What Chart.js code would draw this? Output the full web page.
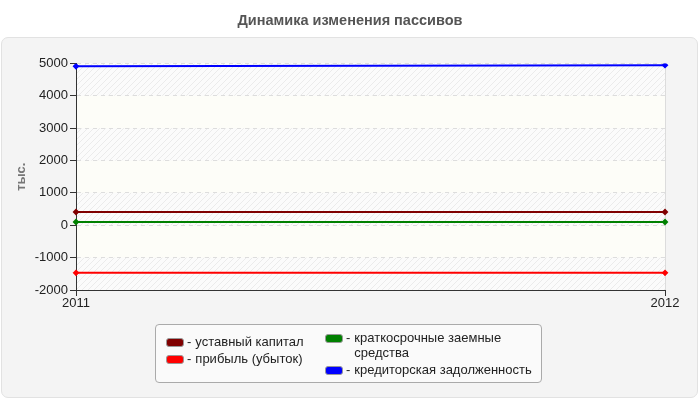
<!DOCTYPE html>
<html lang="ru">
<head>
  <meta charset="UTF-8">
  <title>Динамика изменения пассивов</title>
  <script src="https://cdn.jsdelivr.net/npm/chart.js"></script>
  <style>
    body { margin: 0; background: #fff; font-family: "Liberation Sans", Arial, sans-serif; }
    #wrap { position: relative; width: 700px; height: 400px; }
    /* grey panel behind the plot */
    #panel {
      position: absolute; left: 1px; top: 37px; width: 695px; height: 359px;
      background: #f4f4f4; border: 1px solid #e2e2e2; border-radius: 7px;
    }
    #chart { position: absolute; left: 0; top: 0; }
    #legend {
      position: absolute; left: 155px; top: 324px; width: 385px; height: 57px;
      background: #fafafa; border: 1px solid #aaa; border-radius: 4px;
      font-size: 13px; color: #222;
    }
    .col { position: absolute; }
    .item { display: flex; align-items: flex-start; line-height: 15px; margin-bottom: 2px; }
    .sw { width: 16px; height: 7px; border: 1px solid #999; border-radius: 3px; margin: 4px 3px 0 0; flex: none; }
    .dash { margin-right: 4px; }
  </style>
</head>
<body>
<div id="wrap">
  <div id="panel"></div>
  <canvas id="chart" width="700" height="400"></canvas>
  <div id="legend"></div>
</div>
<script>
  // years on the x axis
  const years = ['2011', '2012'];

  // series (тыс.)
  const ustavnyKapital = [410, 410];
  const pribyl = [-1470, -1470];
  const kratkosrochnye = [100, 100];
  const kreditorskaya = [4910, 4945];

  const seriesNames = ['уставный капитал', 'прибыль (убыток)', 'краткосрочные заемные средства', 'кредиторская задолженность'];
  const seriesColors = ['#800000', '#ff0000', '#008000', '#0000ff'];
  const seriesValues = [ustavnyKapital, pribyl, kratkosrochnye, kreditorskaya];

  // hatched / plain bands behind the plot
  function makeHatch() {
    const c = document.createElement('canvas');
    c.width = 6; c.height = 6;
    const g = c.getContext('2d');
    g.fillStyle = '#fbfbfb';
    g.fillRect(0, 0, 6, 6);
    g.strokeStyle = '#ebebeb';
    g.lineWidth = 1;
    g.beginPath();
    g.moveTo(0, 6); g.lineTo(6, 0);
    g.moveTo(-1, 1); g.lineTo(1, -1);
    g.moveTo(5, 7); g.lineTo(7, 5);
    g.stroke();
    return g.createPattern(c, 'repeat');
  }

  const bandsPlugin = {
    id: 'bands',
    beforeDraw(chart) {
      const { ctx, chartArea: a, scales: { y } } = chart;
      const hatch = makeHatch();
      ctx.save();
      ctx.fillStyle = '#fdfdf8';
      ctx.fillRect(a.left, a.top, a.right - a.left, a.bottom - a.top);
      let i = 0;
      for (let v = 5000; v > -2000; v -= 1000, i++) {
        if (i % 2 === 0) {
          const top = y.getPixelForValue(v), bot = y.getPixelForValue(v - 1000);
          ctx.fillStyle = hatch;
          ctx.fillRect(a.left, top, a.right - a.left, bot - top);
        }
      }
      ctx.restore();
    }
  };

  const datasets = seriesValues.map((vals, i) => ({
    label: seriesNames[i],
    data: vals,
    borderColor: seriesColors[i],
    backgroundColor: seriesColors[i],
    borderWidth: 2,
    pointStyle: 'rectRot',
    pointRadius: 2,
    tension: 0
  }));

  new Chart(document.getElementById('chart'), {
    type: 'line',
    data: { labels: years, datasets: datasets },
    plugins: [bandsPlugin],
    options: {
      responsive: false,
      animation: false,
      layout: { padding: 0 },
      plugins: {
        legend: { display: false },
        tooltip: { enabled: false },
        title: {
          display: true,
          text: 'Динамика изменения пассивов',
          color: '#555',
          font: { family: 'Liberation Sans', size: 14.5, weight: 'bold' },
          padding: { top: 12, bottom: 34 }
        }
      },
      scales: {
        x: {
          offset: false,
          afterFit: s => { s.height = 110; },
          ticks: { color: '#222', font: { family: 'Liberation Sans', size: 13 }, padding: 0, maxRotation: 0 },
          grid: {
            color: ctx => ctx.index === 1 ? '#dcdcdc' : 'rgba(0,0,0,0)',
            tickColor: '#333',
            tickLength: 6
          },
          border: { display: true, color: '#333', width: 1 }
        },
        y: {
          min: -2000,
          max: 5000,
          afterFit: s => { s.width = 76; },
          ticks: {
            stepSize: 1000, color: '#222', font: { family: 'Liberation Sans', size: 13 }, padding: 2,
            callback: v => String(v)
          },
          grid: {
            color: '#dddddd',
            tickColor: '#333',
            tickLength: 6
          },
          border: { display: true, color: '#333', width: 1, dash: [4, 4] },
          title: {
            display: true,
            text: 'тыс.',
            color: '#777',
            font: { family: 'Liberation Sans', size: 13, weight: 'bold' },
            padding: { top: 14, bottom: 0 }
          }
        },
        // empty spacer on the right so the title stays centred on the page
        spacer: {
          type: 'linear',
          position: 'right',
          afterFit: s => { s.width = 35; },
          ticks: { display: false },
          grid: { display: false },
          border: { display: false }
        }
      }
    }
  });

  // two-column legend, built from the series arrays
  const legend = document.getElementById('legend');
  const cols = [[0, 1], [2, 3]];
  const colLeft = [10, 169];
  const colTop = [9, 5];
  const labelWidth = [150, 192];
  cols.forEach((idx, c) => {
    const col = document.createElement('div');
    col.className = 'col';
    col.style.left = colLeft[c] + 'px';
    col.style.top = colTop[c] + 'px';
    idx.forEach(i => {
      const it = document.createElement('div');
      it.className = 'item';
      it.innerHTML = '<span class="sw" style="background:' + seriesColors[i] + '"></span>' +
        '<span class="dash">-</span><span style="width:' + labelWidth[c] + 'px">' + seriesNames[i] + '</span>';
      col.appendChild(it);
    });
    legend.appendChild(col);
  });
</script>
</body>
</html>
